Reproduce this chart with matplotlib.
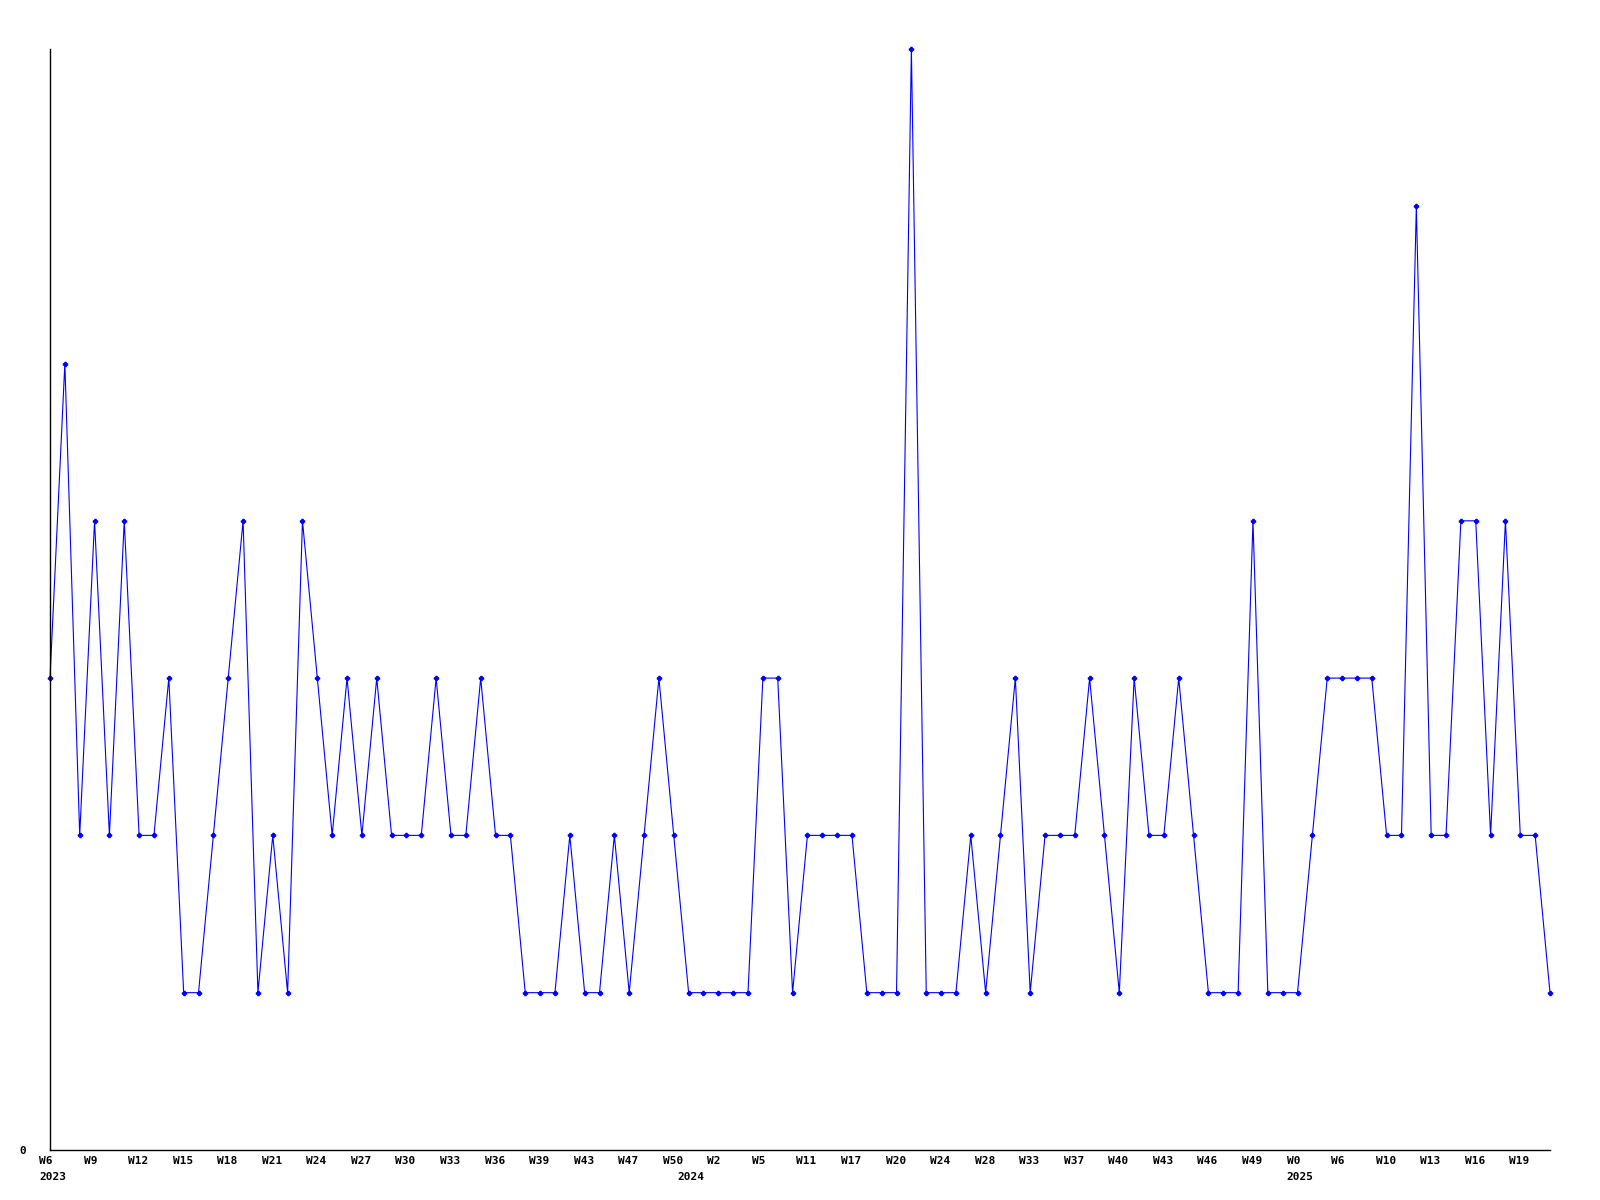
import matplotlib
matplotlib.use('Agg')
import matplotlib.pyplot as plt
import matplotlib.transforms as mtransforms

# weekly counts
values = [3, 5, 2, 4, 2, 4, 2, 2, 3, 1, 1, 2, 3, 4, 1, 2, 1, 4, 3, 2,
          3, 2, 3, 2, 2, 2, 3, 2, 2, 3, 2, 2, 1, 1, 1, 2, 1, 1, 2, 1,
          2, 3, 2, 1, 1, 1, 1, 1, 3, 3, 1, 2, 2, 2, 2, 1, 1, 1, 7, 1,
          1, 1, 2, 1, 2, 3, 1, 2, 2, 2, 3, 2, 1, 3, 2, 2, 3, 2, 1, 1,
          1, 4, 1, 1, 1, 2, 3, 3, 3, 3, 2, 2, 6, 2, 2, 4, 4, 2, 4, 2,
          2, 1]

week_labels = ['W6', 'W9', 'W12', 'W15', 'W18', 'W21', 'W24', 'W27', 'W30',
               'W33', 'W36', 'W39', 'W43', 'W47', 'W50', 'W2', 'W5', 'W11',
               'W17', 'W20', 'W24', 'W28', 'W33', 'W37', 'W40', 'W43', 'W46',
               'W49', 'W0', 'W6', 'W10', 'W13', 'W16', 'W19']
label_step = 3

year_labels = ['2023', '2024', '2025']
year_index = [0, 43, 84]

font = dict(family='DejaVu Sans Mono', weight='bold', size=8)

fig = plt.figure(figsize=(16, 12), dpi=100)
ax = fig.add_axes([0.03125, 0.0417, 0.9375, 0.9175])

x = list(range(len(values)))
ax.plot(x, values, color='#0000ff', lw=0.8, marker='P', ms=3, clip_on=False)

ax.set_xlim(0, len(values) - 1)
ax.set_ylim(0, max(values))

for s in ['top', 'right']:
    ax.spines[s].set_visible(False)
for s in ['left', 'bottom']:
    ax.spines[s].set_color('black')
    ax.spines[s].set_linewidth(1)

ax.set_yticks([0])
ax.set_yticklabels(['0'], **font)
ax.tick_params(axis='y', length=0, pad=17.5)

ax.set_xticks(x[::label_step])
ax.set_xticklabels(week_labels, ha='left', **font)
ax.tick_params(axis='x', length=0, pad=4)
shift = mtransforms.ScaledTranslation(-0.11, 0, fig.dpi_scale_trans)
for lbl in ax.get_xticklabels():
    lbl.set_transform(lbl.get_transform() + shift)

trans = ax.get_xaxis_transform() + shift
for pos, yr in zip(year_index, year_labels):
    ax.text(pos, -0.0245, yr, transform=trans, ha='left', va='center', **font)

fig.savefig('out.png', dpi=100)
